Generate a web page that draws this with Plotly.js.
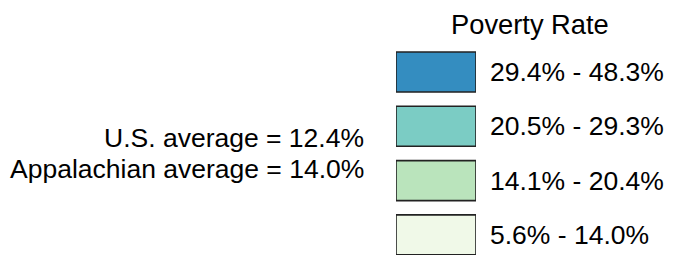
<!DOCTYPE html>
<html>
<head>
<meta charset="utf-8">
<script src="https://cdn.plot.ly/plotly-3.0.1.min.js"></script>
<style>html,body{margin:0;padding:0;background:#fff;}#chart{width:681px;height:255px;}</style>
</head>
<body>
<div id="chart"></div>
<script>
// Legend classes (top to bottom)
const categories = ["29.4% - 48.3%", "20.5% - 29.3%", "14.1% - 20.4%", "5.6% - 14.0%"];
const classColors = ["#348dc0", "#7bccc4", "#bae4bc", "#f0f9e8"];
const legendTitle = "Poverty Rate";
const averageNotes = ["U.S. average = 12.4%", "Appalachian average = 14.0%"];

const W = 681, H = 255;
const FONT = {family: '"Liberation Sans", Arial, Helvetica, sans-serif', size: 26.5, color: '#000'};
const TITLE_FONT = {family: FONT.family, size: 27.3, color: '#000'};

// pixel geometry of the legend
const boxLeft = 396, boxRight = 476, firstCenter = 72, spacing = 54.3, boxH = 40;
const rTop = -firstCenter / spacing;
const rBottom = rTop + H / spacing;

const trace = {
  type: 'bar',
  orientation: 'h',
  y: categories,
  x: categories.map(() => 1),
  base: 0,
  width: boxH / spacing,
  marker: {color: classColors, line: {color: '#222', width: 1.6}},
  hoverinfo: 'skip',
  showlegend: false
};

const annotations = [];
categories.forEach(c => {
  annotations.push({
    xref: 'x', yref: 'y', x: 1, y: c, xanchor: 'left', yanchor: 'middle',
    xshift: 12, text: c, showarrow: false, font: FONT
  });
});
annotations.push({
  xref: 'paper', yref: 'paper', x: 530 / W, y: 1 - 24 / H,
  xanchor: 'center', yanchor: 'middle', text: legendTitle, showarrow: false, font: TITLE_FONT
});
const noteCenters = [138, 169];
averageNotes.forEach((t, i) => {
  annotations.push({
    xref: 'paper', yref: 'paper', x: 366 / W, y: 1 - noteCenters[i] / H,
    xanchor: 'right', yanchor: 'middle', text: t, showarrow: false, font: FONT
  });
});

const layout = {
  width: W, height: H,
  margin: {l: 0, r: 0, t: 0, b: 0, pad: 0},
  paper_bgcolor: '#fff', plot_bgcolor: 'rgba(0,0,0,0)',
  font: FONT,
  xaxis: {domain: [boxLeft / W, boxRight / W], range: [0, 1], autorange: false,
          showgrid: false, zeroline: false, showticklabels: false, showline: false, ticks: '', fixedrange: true},
  yaxis: {type: 'category', categoryorder: 'array', categoryarray: categories,
          range: [rBottom, rTop], autorange: false,
          showgrid: false, zeroline: false, showticklabels: false, showline: false, ticks: '', fixedrange: true},
  annotations: annotations,
  showlegend: false
};

Plotly.newPlot('chart', [trace], layout, {staticPlot: true, displayModeBar: false});
</script>
</body>
</html>
